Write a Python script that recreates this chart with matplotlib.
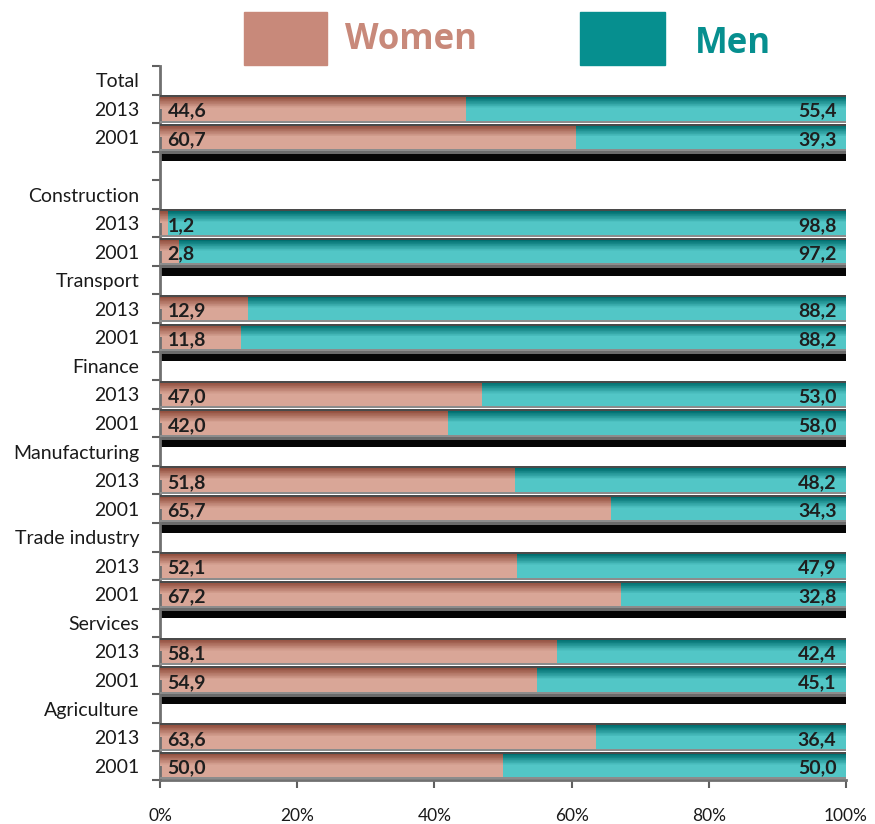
import numpy as np
import matplotlib
matplotlib.use('Agg')
import matplotlib.pyplot as plt
from matplotlib.colors import to_rgb
from matplotlib.patches import Rectangle

# data
groups = ['Total', 'Construction', 'Transport', 'Finance', 'Manufacturing',
          'Trade industry', 'Services', 'Agriculture']
years = ['2013', '2001']
women_2013 = [44.6, 1.2, 12.9, 47.0, 51.8, 52.1, 58.1, 63.6]
men_2013 = [55.4, 98.8, 88.2, 53.0, 48.2, 47.9, 42.4, 36.4]
women_2001 = [60.7, 2.8, 11.8, 42.0, 65.7, 67.2, 54.9, 50.0]
men_2001 = [39.3, 97.2, 88.2, 58.0, 34.3, 32.8, 45.1, 50.0]
x_ticks = [0, 20, 40, 60, 80, 100]

women_body, women_top = '#d9a697', '#93503f'
men_body, men_top = '#52c6c6', '#006f70'

# build rows: group label row, then 2013, 2001 (blank row after Total)
labels, rows = [], []
r = 0
for gi, g in enumerate(groups):
    labels.append((r, g))
    for yi, (w, m) in enumerate([(women_2013[gi], men_2013[gi]),
                                  (women_2001[gi], men_2001[gi])]):
        labels.append((r + 1 + yi, years[yi]))
        rows.append((r + 1 + yi, w, m, yi == 1))
    r += 4 if gi == 0 else 3
n_rows = r

fig = plt.figure(figsize=(8.75, 8.24), dpi=100)
ax = fig.add_axes([160 / 875, 1 - 780 / 824, 686 / 875, 714 / 824])


def grad_bar(y, left, width, body, top, h=0.96, n=16):
    # darker band at top fading into body colour
    b, t = np.array(to_rgb(body)), np.array(to_rgb(top))
    ax.barh(y, width, left=left, height=h, color=body, edgecolor='none', zorder=2)
    y_top = y - h / 2 + 0.07
    band = h * 0.42
    for k in range(n):
        f = k / (n - 1)
        c = t * (1 - f) + b * f
        ax.barh(y_top + band * (k + 0.5) / n, width, left=left, height=band / n * 1.05,
                color=c, edgecolor='none', zorder=3)
    ax.barh(y - h / 2 + 0.035, width, left=left, height=0.07, color='#4a4a4a',
            edgecolor='none', zorder=4)
    ax.barh(y + h / 2 - 0.035, width, left=left, height=0.07, color='#8c8c8c',
            edgecolor='none', zorder=4)


for y, w, m, last in rows:
    tot = w + m
    wp = w / tot * 100
    mp = m / tot * 100
    grad_bar(y, 0, wp, women_body, women_top)
    grad_bar(y, wp, mp, men_body, men_top)
    ax.text(1.1, y + 0.08, f'{w:.1f}'.replace('.', ','), ha='left', va='center',
            fontsize=14, fontweight='bold', color='#1e1e1e', family='Lato', zorder=5)
    ax.text(98.6, y + 0.08, f'{m:.1f}'.replace('.', ','), ha='right', va='center',
            fontsize=14, fontweight='bold', color='#1e1e1e', family='Lato', zorder=5)
    if last and y < n_rows - 1:
        # floor shadow under the group
        ax.barh(y + 0.48 + 0.18, 100, left=0, height=0.36, color='#050505',
                edgecolor='none', zorder=1)
        ax.barh(y + 0.48 + 0.05, 100, left=0, height=0.1, color='#6a6a6a',
                edgecolor='none', zorder=1)

ax.set_xlim(0, 100)
ax.set_ylim(n_rows - 0.5, -0.5)

ax.set_yticks([p for p, _ in labels])
ax.set_yticklabels([t for _, t in labels], fontsize=14, family='Lato', color='#1a1a1a')
ax.tick_params(axis='y', which='major', length=0, pad=15)
ax.set_yticks(np.arange(-0.5, n_rows, 1.0), minor=True)
ax.tick_params(axis='y', which='minor', length=6, width=1.5, color='#606060')

ax.set_xticks(x_ticks)
ax.set_xticklabels([f'{v}%' for v in x_ticks], fontsize=12.5, family='Lato', color='#1a1a1a')
ax.tick_params(axis='x', length=6, width=1.5, color='#606060', pad=14, direction='out')

for s in ['top', 'right']:
    ax.spines[s].set_visible(False)
ax.spines['left'].set_color('#707070')
ax.spines['left'].set_linewidth(2)
ax.spines['bottom'].set_color('#707070')
ax.spines['bottom'].set_linewidth(2)

# legend
fig.patches.append(Rectangle((244 / 875, 1 - 65 / 824), 83 / 875, 53 / 824,
                             transform=fig.transFigure, color='#c8897a'))
fig.patches.append(Rectangle((580 / 875, 1 - 65 / 824), 85 / 875, 53 / 824,
                             transform=fig.transFigure, color='#068f8f'))
fig.text(345 / 875, 1 - 40 / 824, 'Women', fontsize=25, fontweight='bold',
         color='#c8897a', family='Open Sans', va='center', ha='left')
fig.text(695 / 875, 1 - 44 / 824, 'Men', fontsize=25, fontweight='bold',
         color='#068f8f', family='Open Sans', va='center', ha='left')

fig.savefig('out.png', dpi=100)
